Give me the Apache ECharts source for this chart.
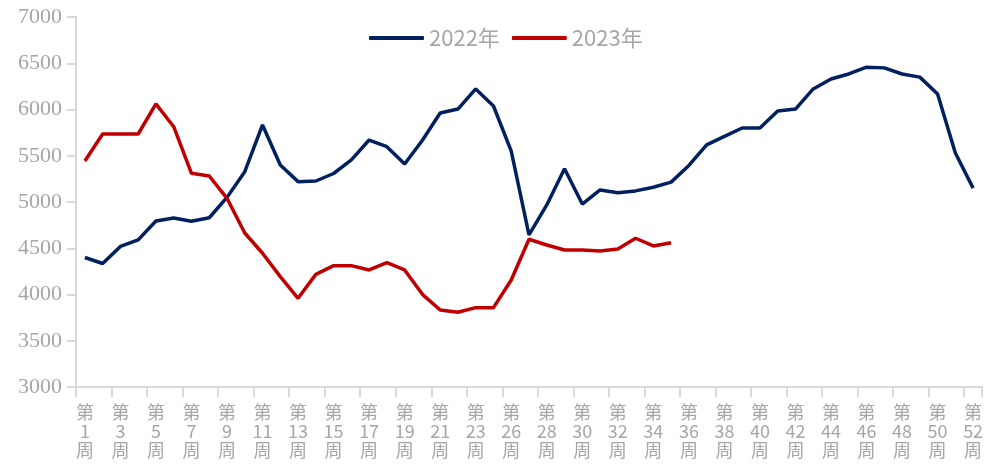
<!DOCTYPE html>
<html>
<head>
<meta charset="utf-8">
<script src="https://cdn.jsdelivr.net/npm/echarts@6/dist/echarts.min.js"></script>
<style>
html,body{margin:0;padding:0;background:#fff;}
#chart{width:987px;height:473px;}
</style>
</head>
<body>
<div id="chart"></div>
<script>
var weeks = [1,2,3,4,5,6,7,8,9,10,11,12,13,14,15,16,17,18,19,20,21,22,23,24,26,27,28,29,30,31,32,33,34,35,36,37,38,39,40,41,42,43,44,45,46,47,48,49,50,51,52];
var categories = weeks.map(function(w){ return '第' + w + '周'; });
var series2022 = [4400,4335,4520,4590,4795,4828,4792,4830,5050,5328,5833,5400,5220,5227,5308,5455,5670,5598,5410,5668,5962,6005,6222,6038,5551,4645,4968,5360,4978,5130,5100,5120,5160,5215,5395,5618,5710,5800,5800,5985,6005,6222,6330,6384,6458,6450,6384,6350,6168,5530,5150];
var series2023 = [5443,5735,5735,5735,6060,5814,5310,5281,5040,4665,4446,4193,3959,4218,4312,4312,4265,4344,4265,4002,3833,3808,3858,3858,4157,4597,4535,4481,4481,4470,4492,4608,4525,4560];
var seriesNames = ['2022年','2023年'];

var chart = echarts.init(document.getElementById('chart'));
var gray = '#a6a6a6';
var axisGray = '#d9d9d9';
chart.setOption({
  animation: false,
  backgroundColor: '#fff',
  grid: {left: 76, right: 5, top: 17, bottom: 86, containLabel: false},
  legend: {
    top: 22,
    left: 364,
    icon: 'roundRect',
    itemWidth: 55,
    itemHeight: 4,
    itemGap: 12,
    textStyle: {color: gray, fontSize: 22, fontFamily: 'Noto Sans CJK SC'},
    data: seriesNames
  },
  xAxis: {
    type: 'category',
    data: categories,
    boundaryGap: true,
    axisLine: {lineStyle: {color: axisGray, width: 2}},
    axisTick: {show: true, interval: 1, length: 10, lineStyle: {color: axisGray, width: 2}},
    axisLabel: {
      interval: 1,
      margin: 16,
      color: gray,
      fontSize: 18,
      lineHeight: 19,
      fontFamily: 'Noto Sans CJK SC',
      formatter: function(v){ var m = v.match(/第(\d+)周/); return '第\n' + m[1] + '\n周'; }
    }
  },
  yAxis: {
    type: 'value',
    min: 3000,
    max: 7000,
    interval: 500,
    splitLine: {show: false},
    axisLine: {show: true, lineStyle: {color: axisGray, width: 2}},
    axisTick: {show: true, length: 9, lineStyle: {color: axisGray, width: 2}},
    axisLabel: {color: gray, fontSize: 22, fontFamily: 'Liberation Serif', margin: 14, formatter: function(v){ return String(v); }}
  },
  series: [
    {name: seriesNames[0], type: 'line', data: series2022, symbol: 'none', lineStyle: {color: '#002060', width: 3.5}, itemStyle: {color: '#002060'}},
    {name: seriesNames[1], type: 'line', data: series2023, symbol: 'none', lineStyle: {color: '#c00000', width: 3.5}, itemStyle: {color: '#c00000'}}
  ]
});
</script>
</body>
</html>
